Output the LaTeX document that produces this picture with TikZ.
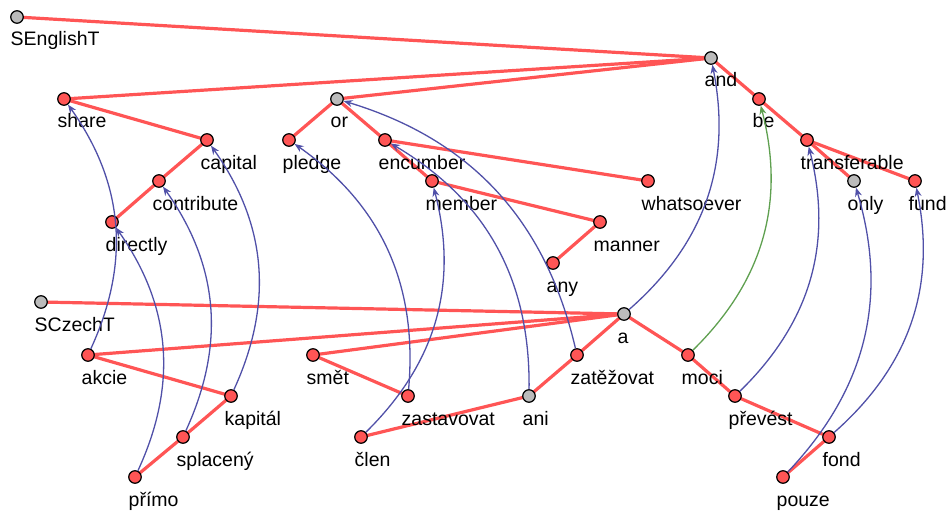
\documentclass[tikz,border=0pt]{standalone}
\usepackage{fontspec}
\setmainfont{Liberation Sans}
\usetikzlibrary{arrows.meta}
\pgfdeclarelayer{background}
\pgfsetlayers{background,main}
\definecolor{tokred}{HTML}{FF5555}
\definecolor{tokgray}{HTML}{BBBBBB}
\definecolor{alignblue}{HTML}{5050A8}
\definecolor{aligngreen}{HTML}{5FA050}
\tikzset{
  tok/.style={circle, draw=black, line width=1.2pt, minimum size=12.5pt, inner sep=0pt},
  lbl/.style={anchor=base west, inner sep=0pt, font=\fontsize{19.5}{23}\selectfont},
  dep/.style={draw=tokred, line width=3.2pt},
  alignarc/.style={draw=alignblue, line width=1.3pt, bend right=30,
    -{Stealth[length=9pt,width=7pt]}},
  alignsure/.style={alignarc, draw=aligngreen},
}
\begin{document}
\begin{tikzpicture}[x=1pt,y=-1pt]
\useasboundingbox (0,0) rectangle (948,511);
% tokens: name / x / y / fill / word
\foreach \n/\x/\y/\c/\t in {
  SEn/17/17/tokgray/SEnglishT,
  and/711/58/tokgray/and,
  share/64/99/tokred/share,
  or/337/99/tokgray/or,
  be/759/99/tokred/be,
  capital/207/140/tokred/capital,
  pledge/289/140/tokred/pledge,
  encumber/385/140/tokred/encumber,
  transferable/807/140/tokred/transferable,
  contribute/159/181/tokred/contribute,
  member/432/181/tokred/member,
  whatsoever/648/181/tokred/whatsoever,
  only/854/181/tokgray/only,
  fund/915/181/tokred/fund,
  directly/112/222/tokred/directly,
  manner/600/222/tokred/manner,
  any/553/263/tokred/any,
  SCz/41/302/tokgray/SCzechT,
  a/624/314/tokgray/a,
  akcie/88/355/tokred/akcie,
  smet/313/355/tokred/smět,
  zatezovat/577/355/tokred/zatěžovat,
  moci/688/355/tokred/moci,
  kapital/231/396/tokred/kapitál,
  zastavovat/408/396/tokred/zastavovat,
  ani/529/396/tokgray/ani,
  prevest/735/396/tokred/převést,
  splaceny/183/437/tokred/splacený,
  clen/361/437/tokred/člen,
  fond/829/437/tokred/fond,
  primo/135/477/tokred/přímo,
  pouze/783/477/tokred/pouze}
{
  \node[tok, fill=\c] (\n) at (\x,\y) {};
  \node[lbl] (\n-l) at (\x-6.5,\y+29) {\t};
}
% dependency trees
\begin{pgfonlayer}{background}
\foreach \p/\q in {SEn/and, and/share, and/or, and/be,
  share/capital, capital/contribute, contribute/directly,
  or/pledge, or/encumber, encumber/member, encumber/whatsoever,
  member/manner, manner/any,
  be/transferable, transferable/only, transferable/fund,
  SCz/a, a/akcie, a/smet, a/zatezovat, a/moci,
  akcie/kapital, kapital/splaceny, splaceny/primo,
  smet/zastavovat, zatezovat/ani, ani/clen,
  moci/prevest, prevest/fond, fond/pouze}
  \draw[dep] (\p.center) -- (\q.center);
\end{pgfonlayer}
% word alignment
\foreach \p/\q in {akcie/share, primo/directly, splaceny/contribute,
  kapital/capital, zastavovat/pledge, clen/member, ani/encumber,
  zatezovat/or, a/and, prevest/transferable, pouze/only, fond/fund}
  \draw[alignarc] (\p) to (\q);
\draw[alignsure] (moci) to (be);
\end{tikzpicture}
\end{document}
